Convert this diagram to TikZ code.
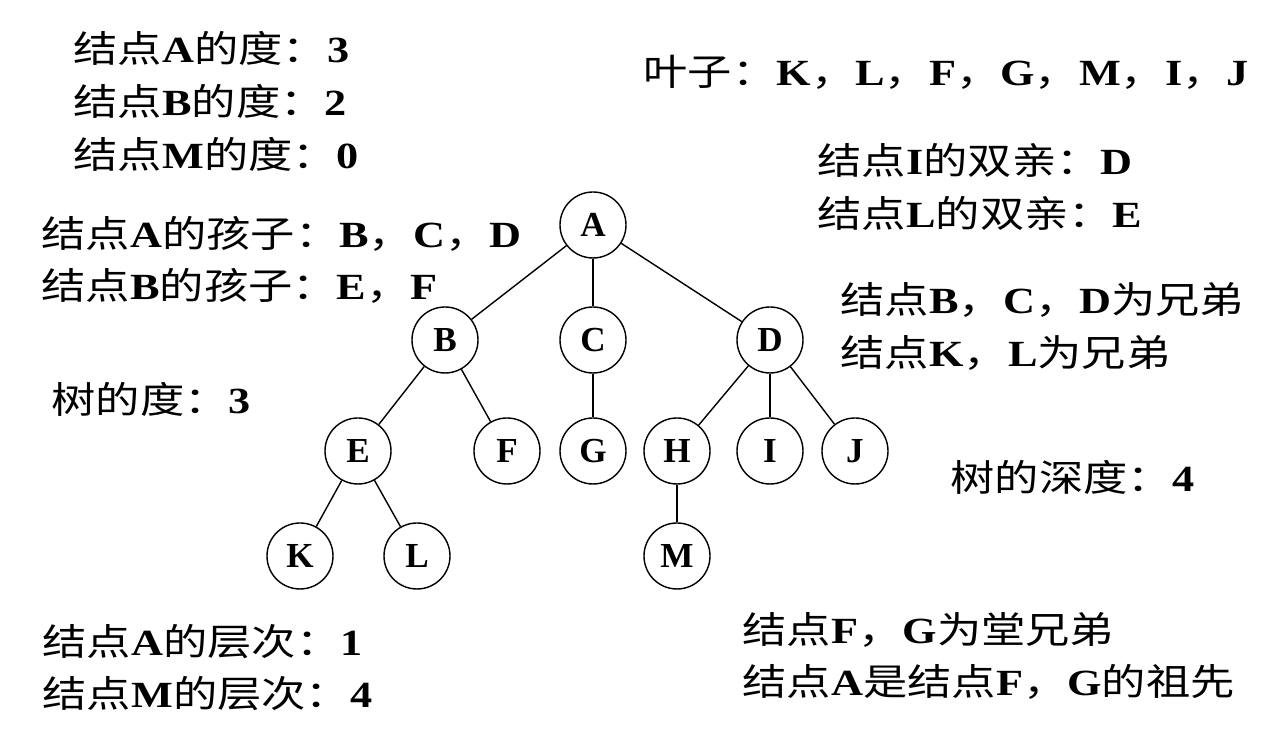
\documentclass[tikz,border=0pt]{standalone}
\usepackage{fontspec}
\setmainfont{Liberation Serif}
\newfontfamily\widefont{Liberation Serif}[FakeStretch=1.2]
\newfontfamily\cjk{Noto Sans CJK SC}[FakeStretch=1.2]
\usetikzlibrary{positioning}
\newcommand{\zh}[1]{{\cjk\mdseries #1}}
\tikzstyle{vertex} = [draw, circle, minimum size=1.32cm, inner sep=0pt,
font=\fontsize{20}{24}\selectfont\bfseries]
\tikzstyle{note} = [anchor=west, inner sep=0pt,
font=\fontsize{21}{25}\selectfont\widefont\bfseries]

\begin{document}
\begin{tikzpicture}[auto, node distance=2.3cm, line width=0.8pt]

\useasboundingbox (0,0) rectangle (25.30,14.96);

% tree
\node [vertex] (A) at (11.86,10.46) {A};
\node [vertex] (B) at (8.90,8.16) {B};
\node [vertex, below of=A] (C) {C};
\node [vertex] (D) at (15.40,8.16) {D};
\node [vertex] (E) at (7.16,5.94) {E};
\node [vertex] (F) at (10.14,5.94) {F};
\node [vertex, below of=C, node distance=2.22cm] (G) {G};
\node [vertex] (H) at (13.54,5.94) {H};
\node [vertex, below of=D, node distance=2.22cm] (I) {I};
\node [vertex] (J) at (17.10,5.94) {J};
\node [vertex] (K) at (6.00,3.84) {K};
\node [vertex] (L) at (8.34,3.84) {L};
\node [vertex, below of=H, node distance=2.1cm] (M) {M};

\draw (A) -- (B);
\draw (A) -- (C);
\draw (A) -- (D);
\draw (B) -- (E);
\draw (B) -- (F);
\draw (C) -- (G);
\draw (D) -- (H);
\draw (D) -- (I);
\draw (D) -- (J);
\draw (E) -- (K);
\draw (E) -- (L);
\draw (H) -- (M);

% left column
\node [note] (degA) at (1.46,14.00) {\zh{结点}A\zh{的度：}3};
\node [note] (degB) at (1.46,12.94) {\zh{结点}B\zh{的度：}2};
\node [note] (degM) at (1.46,11.88) {\zh{结点}M\zh{的度：}0};
\node [note] (kidsA) at (0.82,10.28) {\zh{结点}A\zh{的孩子：}B\zh{，}C\zh{，}D};
\node [note] (kidsB) at (0.82,9.24) {\zh{结点}B\zh{的孩子：}E\zh{，}F};
\node [note] (degT) at (1.02,6.98) {\zh{树的度：}3};
\node [note] (lvlA) at (0.84,2.12) {\zh{结点}A\zh{的层次：}1};
\node [note] (lvlM) at (0.84,1.08) {\zh{结点}M\zh{的层次：}4};

% right column
\node [note] (leaves) at (12.86,13.52) {\zh{叶子：}K\zh{，}L\zh{，}F\zh{，}G\zh{，}M\zh{，}I\zh{，}J};
\node [note] (parI) at (16.34,11.76) {\zh{结点}I\zh{的双亲：}D};
\node [note] (parL) at (16.34,10.70) {\zh{结点}L\zh{的双亲：}E};
\node [note] (sib1) at (16.80,8.96) {\zh{结点}B\zh{，}C\zh{，}D\zh{为兄弟}};
\node [note] (sib2) at (16.80,7.90) {\zh{结点}K\zh{，}L\zh{为兄弟}};
\node [note] (depth) at (19.00,5.42) {\zh{树的深度：}4};
\node [note] (cous) at (14.84,2.36) {\zh{结点}F\zh{，}G\zh{为堂兄弟}};
\node [note] (anc) at (14.84,1.32) {\zh{结点}A\zh{是结点}F\zh{，}G\zh{的祖先}};
\end{tikzpicture}
\end{document}
